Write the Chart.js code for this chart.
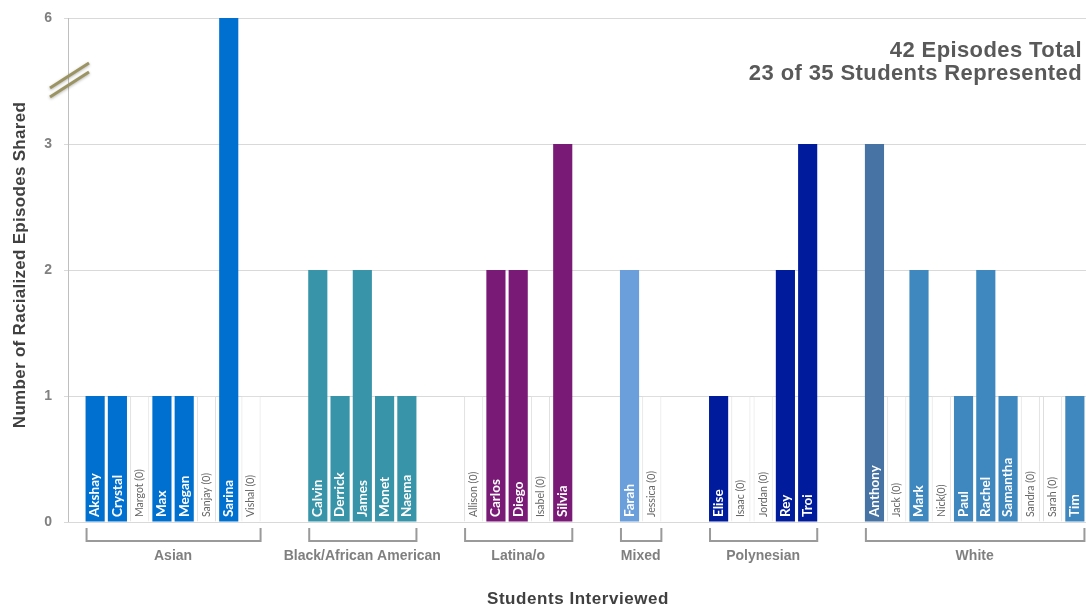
<!DOCTYPE html>
<html>
<head>
<meta charset="utf-8">
<script src="https://cdn.jsdelivr.net/npm/chart.js@4.4.1/dist/chart.umd.min.js"></script>
<style>
  html, body { margin: 0; padding: 0; background: #fff; }
  #wrap { width: 1086px; height: 608px; position: relative; }
</style>
</head>
<body>
<div id="wrap"><canvas id="myChart"></canvas></div>
<script>
// data
const groupNames = ['Asian', 'Black/African American', 'Latina/o', 'Mixed', 'Polynesian', 'White'];

const asianStudents = ['Akshay', 'Crystal', 'Margot (0)', 'Max', 'Megan', 'Sanjay (0)', 'Sarina', 'Vishal (0)'];
const asianEpisodes = [1, 1, 0, 1, 1, 0, 6, 0];

const blackStudents = ['Calvin', 'Derrick', 'James', 'Monet', 'Naema'];
const blackEpisodes = [2, 1, 2, 1, 1];

const latinxStudents = ['Allison (0)', 'Carlos', 'Diego', 'Isabel (0)', 'Silvia'];
const latinxEpisodes = [0, 2, 2, 0, 3];

const mixedStudents = ['Farah', 'Jessica (0)'];
const mixedEpisodes = [2, 0];

const polyStudents = ['Elise', 'Isaac (0)', 'Jordan (0)', 'Rey', 'Troi'];
const polyEpisodes = [1, 0, 0, 2, 3];

const whiteStudents = ['Anthony', 'Jack (0)', 'Mark', 'Nick(0)', 'Paul', 'Rachel', 'Samantha', 'Sandra (0)', 'Sarah (0)', 'Tim'];
const whiteEpisodes = [3, 0, 2, 0, 1, 2, 1, 0, 0, 1];

const yTickLabels = ['0', '1', '2', '3', '6'];   // broken axis: 6 sits one step above 3

const summaryLines = ['42 Episodes Total', '23 of 35 Students Represented'];
const xTitle = 'Students Interviewed';
const yTitle = 'Number of Racialized Episodes Shared';

// styles
const groupColors = ['#0070d0', '#3894a9', '#7a1a77', '#6a9fdb', '#001b9c', '#3e87bf'];
const colorOverrides = { 'Anthony': '#4673a3' };
const GAP = 2;

const groupStudents = [asianStudents, blackStudents, latinxStudents, mixedStudents, polyStudents, whiteStudents];
const groupEpisodes = [asianEpisodes, blackEpisodes, latinxEpisodes, mixedEpisodes, polyEpisodes, whiteEpisodes];

// build category axis with empty slots between groups
const labels = [];
const values = [];
const placeholders = [];
const colors = [];
const groupRanges = [];
groupStudents.forEach((names, g) => {
  if (g > 0) {
    for (let k = 0; k < GAP; k++) {
      labels.push(''); values.push(null); placeholders.push(null); colors.push('rgba(0,0,0,0)');
    }
  }
  const first = labels.length;
  names.forEach((name, i) => {
    const v = groupEpisodes[g][i];
    labels.push(name);
    values.push(v > 3 ? yTickLabels.indexOf(String(v)) : v);
    placeholders.push(v === 0 ? 1 : null);
    colors.push(colorOverrides[name] || groupColors[g]);
  });
  groupRanges.push([first, labels.length - 1]);
});

const decorations = {
  id: 'decorations',
  beforeDatasetsDraw(chart) {
    const { ctx, chartArea, scales: { y } } = chart;
    ctx.save();
    ctx.strokeStyle = '#d9d9d9';
    ctx.lineWidth = 1;
    yTickLabels.forEach((t, i) => {
      const py = Math.round(y.getPixelForValue(i)) + 0.5;
      ctx.beginPath();
      ctx.moveTo(64, py);
      ctx.lineTo(chartArea.left, py);
      ctx.stroke();
    });
    ctx.strokeStyle = '#bfbfbf';
    ctx.beginPath();
    ctx.moveTo(68.5, chartArea.top);
    ctx.lineTo(68.5, chartArea.bottom);
    ctx.stroke();
    ctx.restore();
  },
  afterDatasetsDraw(chart) {
    const { ctx, chartArea, scales: { y } } = chart;
    const meta = chart.getDatasetMeta(0);
    const base = chartArea.bottom;
    ctx.save();

    // names inside the bars
    labels.forEach((name, i) => {
      if (!name) return;
      const bar = meta.data[i];
      const zero = name.indexOf('(0)') !== -1;
      ctx.save();
      ctx.translate(bar.x, base - 5);
      ctx.rotate(-Math.PI / 2);
      ctx.textAlign = 'left';
      ctx.textBaseline = 'middle';
      ctx.fillStyle = zero ? '#666666' : '#ffffff';
      ctx.font = zero ? '10.5px Lato' : 'bold 13.5px Lato';
      ctx.fillText(name, 0, 0);
      ctx.restore();
    });

    // group brackets
    ctx.strokeStyle = '#9a9a9a';
    ctx.lineWidth = 2;
    ctx.fillStyle = '#7f7f7f';
    ctx.font = 'bold 14px "Liberation Sans", Arial';
    ctx.textAlign = 'center';
    ctx.textBaseline = 'middle';
    groupRanges.forEach(([a, b], g) => {
      const left = meta.data[a].x - meta.data[a].width / 2 + 1;
      const right = Math.min(meta.data[b].x + meta.data[b].width / 2, chart.width - 1);
      ctx.beginPath();
      ctx.moveTo(left, base + 6);
      ctx.lineTo(left, base + 19);
      ctx.lineTo(right, base + 19);
      ctx.lineTo(right, base + 6);
      ctx.stroke();
      const cx = (meta.data[a].x - meta.data[a].width / 2 + meta.data[b].x + meta.data[b].width / 2) / 2;
      ctx.fillText(groupNames[g], cx, base + 34);
    });

    // axis break marks between 3 and 6
    const by = y.getPixelForValue(3.5);
    ctx.lineWidth = 3;
    ctx.lineCap = 'butt';
    ctx.strokeStyle = '#9b9462';
    ctx.shadowColor = 'rgba(0,0,0,0.3)';
    ctx.shadowBlur = 3;
    ctx.shadowOffsetY = 1;
    [-5, 4].forEach(d => {
      ctx.beginPath();
      ctx.moveTo(50, by + d + 12);
      ctx.lineTo(89, by + d - 13);
      ctx.stroke();
    });
    ctx.shadowColor = 'rgba(0,0,0,0)';

    // summary text, top right
    ctx.fillStyle = '#595959';
    ctx.font = 'bold 22px "Liberation Sans", Arial';
    ctx.letterSpacing = '0.4px';
    ctx.textAlign = 'right';
    ctx.textBaseline = 'alphabetic';
    summaryLines.forEach((line, i) => ctx.fillText(line, chart.width - 4, 57 + i * 23));

    // axis titles
    ctx.fillStyle = '#404040';
    ctx.font = 'bold 17px "Liberation Sans", Arial';
    ctx.letterSpacing = '0.55px';
    ctx.textAlign = 'center';
    ctx.textBaseline = 'middle';
    ctx.fillText(xTitle, 578, 599);
    ctx.letterSpacing = '0.3px';
    ctx.save();
    ctx.translate(20, 265);
    ctx.rotate(-Math.PI / 2);
    ctx.fillText(yTitle, 0, 0);
    ctx.restore();
    ctx.letterSpacing = '0px';

    ctx.restore();
  }
};

new Chart(document.getElementById('myChart'), {
  type: 'bar',
  data: {
    labels: labels,
    datasets: [{
      label: 'Episodes',
      data: values,
      backgroundColor: colors,
      borderWidth: 0,
      grouped: false,
      barPercentage: 0.86,
      categoryPercentage: 1,
      order: 1
    }, {
      label: 'No episodes',
      data: placeholders,
      backgroundColor: '#ffffff',
      borderColor: '#dedede',
      borderWidth: 1,
      grouped: false,
      barPercentage: 0.86,
      categoryPercentage: 1,
      order: 2
    }]
  },
  plugins: [decorations],
  options: {
    responsive: true,
    maintainAspectRatio: false,
    animation: false,
    layout: { padding: { top: 18, right: 0, bottom: 0, left: 0 } },
    plugins: {
      legend: { display: false },
      tooltip: { enabled: false }
    },
    scales: {
      x: {
        ticks: { display: false },
        grid: { display: false },
        border: { display: false },
        afterFit: function(scale) { scale.height = 86; }
      },
      y: {
        min: 0,
        max: yTickLabels.length - 1,
        ticks: {
          stepSize: 1,
          padding: 32,
          color: '#808080',
          font: { family: '"Liberation Sans", Arial', size: 14, weight: 'bold' },
          callback: function(value) { return yTickLabels[value]; }
        },
        grid: { color: '#d9d9d9', drawTicks: false },
        border: { display: false },
        afterFit: function(scale) {
          scale.width = 84;
          scale.paddingTop = 0;
          scale.paddingBottom = 0;
        }
      }
    }
  }
});
</script>
</body>
</html>
